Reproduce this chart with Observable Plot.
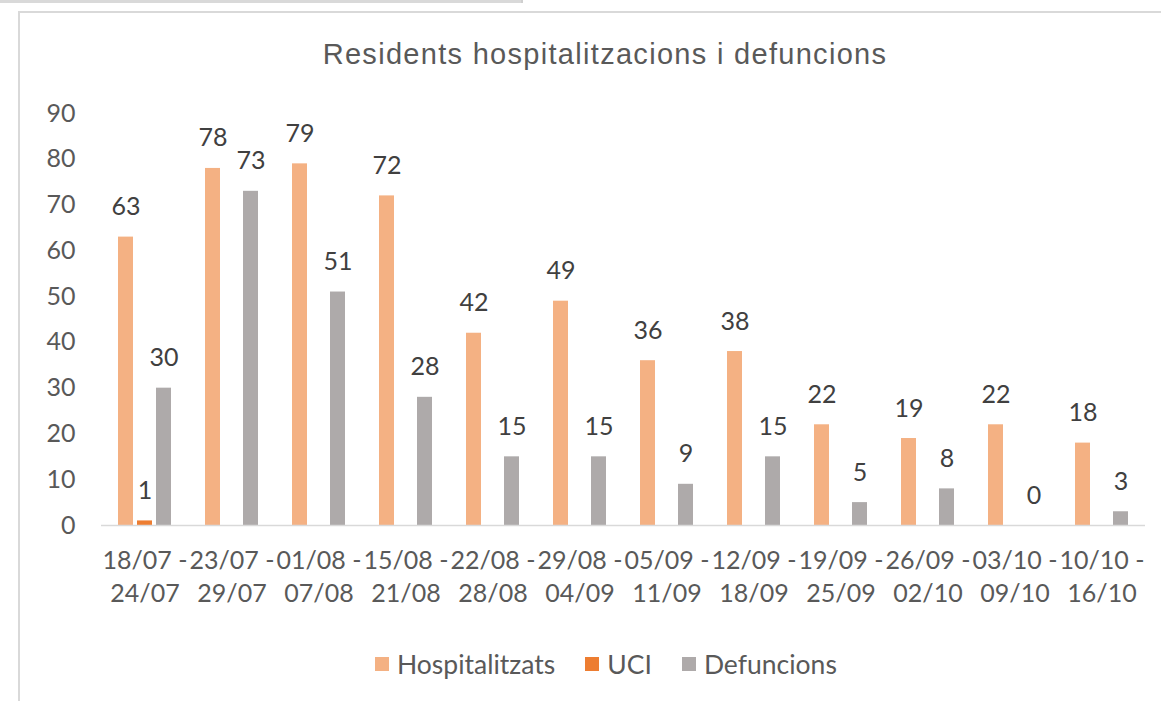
<!DOCTYPE html>
<html>
<head>
<meta charset="utf-8">
<script src="https://cdn.jsdelivr.net/npm/d3@7"></script>
<script src="https://cdn.jsdelivr.net/npm/@observablehq/plot@0.6"></script>
<style>
  html, body { margin: 0; padding: 0; background: #fff; overflow: hidden; }
  body { width: 1161px; height: 701px; position: relative; font-family: Lato, sans-serif; color: #595959; }
  #topstrip { position: absolute; left: 0; top: 0; width: 521px; height: 3px; background: #d9d9d9; border-right: 2px solid #cfcfcf; }
  #frame { position: absolute; left: 18px; top: 11px; width: 1160px; height: 700px; border-left: 2px solid #d9d9d9; border-top: 2px solid #d9d9d9; }
  #title { position: absolute; left: 305px; width: 600px; top: 40px; line-height: 29px; text-align: center; font-family: "Liberation Sans", Arial, sans-serif; font-size: 29px; letter-spacing: 1.3px; color: #595959; white-space: nowrap; }
  #chart { position: absolute; left: 0; top: 90px; }
  #legend { position: absolute; left: 375px; top: 650px; height: 28px; display: flex; align-items: center; font-size: 26.5px; line-height: 28px; color: #595959; white-space: nowrap; }
  .item { display: flex; align-items: center; margin-right: 30px; }
  .sw { width: 14px; height: 14px; margin-right: 8px; }
</style>
</head>
<body>
<div id="topstrip"></div>
<div id="frame"></div>
<div id="title">Residents hospitalitzacions i defuncions</div>
<div id="chart"></div>
<div id="legend"></div>
<script>
const categories = ["18/07 - 24/07", "23/07 - 29/07", "01/08 - 07/08", "15/08 - 21/08", "22/08 - 28/08", "29/08 - 04/09",
                    "05/09 - 11/09", "12/09 - 18/09", "19/09 - 25/09", "26/09 - 02/10", "03/10 - 09/10", "10/10 - 16/10"];
const series = ["Hospitalitzats", "UCI", "Defuncions"];
const colors = ["#F4B183", "#ED7D31", "#AEAAAA"];
const hospitalitzats = [63, 78, 79, 72, 42, 49, 36, 38, 22, 19, 22, 18];
const uci = [1, null, null, null, null, null, null, null, null, null, null, null];
const defuncions = [30, 73, 51, 28, 15, 15, 9, 15, 5, 8, 0, 3];
const yTicks = [0, 10, 20, 30, 40, 50, 60, 70, 80, 90];

const values = [hospitalitzats, uci, defuncions];
const rows = categories.flatMap((c, i) => series.map((s, j) => ({cat: c, serie: s, value: values[j][i]})))
  .filter(d => d.value != null);

const chart = Plot.plot({
  width: 1161,
  height: 530,
  marginLeft: 98,
  marginRight: 13,
  marginTop: 23,
  marginBottom: 95,
  style: {fontFamily: "Lato, sans-serif", fontSize: "25px", color: "#595959", background: "transparent", overflow: "visible"},
  fx: {domain: categories, padding: 0, label: null},
  x: {domain: series, paddingInner: 0.21, paddingOuter: 0.85, axis: null},
  y: {domain: [0, 90], label: null},
  color: {domain: series, range: colors},
  marks: [
    Plot.axisY({ticks: yTicks, tickSize: 0, tickPadding: 26, label: null, fontSize: 25, fill: "#595959"}),
    Plot.axisFx({anchor: "bottom", tickSize: 0, tickPadding: 20, label: null, fontSize: 25, lineHeight: 1.32, fill: "#595959",
                 tickFormat: d => d.replace(" - ", " -\n")}),
    Plot.barY(rows, {fx: "cat", x: "serie", y: "value", fill: "serie"}),
    Plot.ruleY([0], {stroke: "#d9d9d9", strokeWidth: 1.5}),
    Plot.text(rows, {fx: "cat", x: "serie", y: "value", text: d => String(d.value), dy: -30, fill: "#404040", fontSize: 25})
  ]
});
document.getElementById("chart").appendChild(chart);

const legend = document.getElementById("legend");
series.forEach((s, i) => {
  const item = document.createElement("div");
  item.className = "item";
  const sw = document.createElement("div");
  sw.className = "sw";
  sw.style.background = colors[i];
  const t = document.createElement("span");
  t.textContent = s;
  item.appendChild(sw);
  item.appendChild(t);
  legend.appendChild(item);
});
</script>
</body>
</html>
